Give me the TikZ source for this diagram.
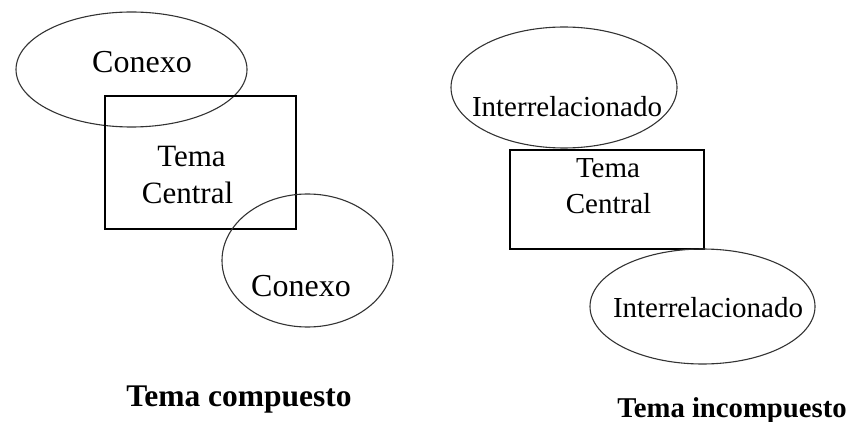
\documentclass[tikz,border=0pt]{standalone}
\usepackage{fontspec}
\setmainfont{Liberation Serif}
\usetikzlibrary{shapes.geometric}
\begin{document}
\begin{tikzpicture}[x=1pt,y=-1pt,
  ovalshape/.style={draw=black!80, line width=1.1pt, ellipse, inner sep=0pt},
  boxshape/.style={draw=black, line width=1.1pt, rectangle, inner sep=0pt},
  lbl/.style={anchor=base, inner sep=0pt, text=black},
  bigtxt/.style={lbl, font=\fontsize{32}{38}\selectfont},
  midtxt/.style={lbl, font=\fontsize{31}{37}\selectfont},
  smalltxt/.style={lbl, font=\fontsize{29}{35}\selectfont},
  titleL/.style={lbl, font=\fontsize{31.5}{38}\selectfont\bfseries},
  titleR/.style={lbl, font=\fontsize{28.7}{34}\selectfont\bfseries},
]
\useasboundingbox (0,0) rectangle (850,422);

% ---- left: Tema compuesto ----
\node[ovalshape, minimum width=231pt, minimum height=115pt] (ovalA) at (131.5,69.5) {};
\node[boxshape, minimum width=191pt, minimum height=133pt] (boxA) at (200.5,162.5) {};
\node[ovalshape, minimum width=171pt, minimum height=133pt] (ovalB) at (307.5,260.5) {};

\node[bigtxt] (txtA) at (142,73) {Conexo};
\node[midtxt] (temaA) at (191.5,166) {Tema};
\node[midtxt] (centralA) at (187.5,203) {Central};
\node[bigtxt] (txtB) at (301,296) {Conexo};
\node[titleL] (titleA) at (239,406) {Tema compuesto};

% ---- right: Tema incompuesto ----
\node[ovalshape, minimum width=226pt, minimum height=121pt] (ovalC) at (564,87.5) {};
\node[boxshape, minimum width=194pt, minimum height=99pt] (boxC) at (607,199.5) {};
\node[ovalshape, minimum width=225pt, minimum height=115pt] (ovalD) at (702.5,306.5) {};

\node[smalltxt] (txtC) at (567,117) {Interrelacionado};
\node[smalltxt] (temaC) at (608,178) {Tema};
\node[smalltxt] (centralC) at (608.5,213) {Central};
\node[smalltxt] (txtD) at (708,317) {Interrelacionado};
\node[titleR] (titleC) at (732,417) {Tema incompuesto};
\end{tikzpicture}
\end{document}
